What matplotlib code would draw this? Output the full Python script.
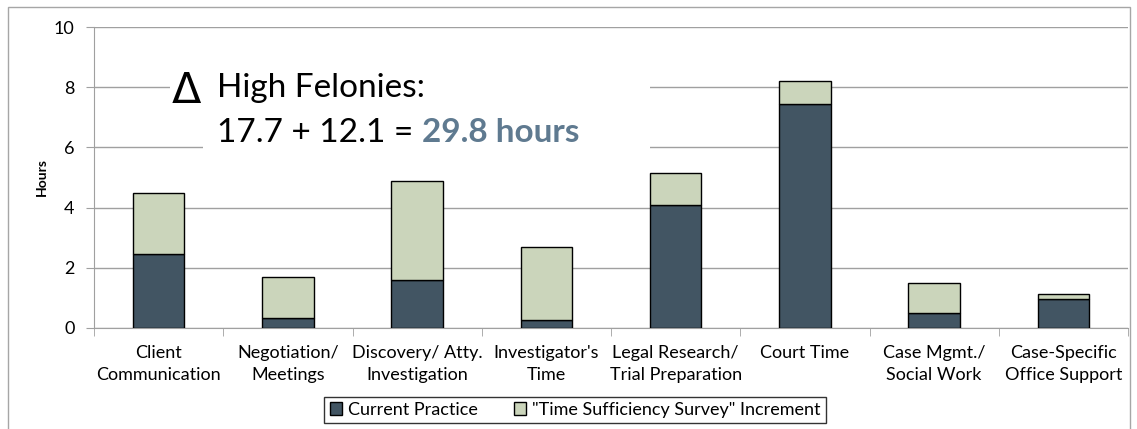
import matplotlib
matplotlib.use("Agg")
import matplotlib.pyplot as plt
from matplotlib.patches import Rectangle
import numpy as np

plt.rcParams['font.family'] = ['Lato', 'DejaVu Sans']

categories = ["Client\nCommunication", "Negotiation/\nMeetings", "Discovery/ Atty.\nInvestigation",
              "Investigator's\nTime", "Legal Research/\nTrial Preparation", "Court Time",
              "Case Mgmt./\nSocial Work", "Case-Specific\nOffice Support"]
current = [2.46, 0.33, 1.59, 0.27, 4.09, 7.44, 0.49, 0.97]
increment = [2.03, 1.36, 3.29, 2.42, 1.07, 0.76, 1.00, 0.16]
series_names = ["Current Practice", '"Time Sufficiency Survey" Increment']
dark = "#425563"
light = "#cbd5bb"

W, H = 1137, 429
fig = plt.figure(figsize=(W/100, H/100), dpi=100)
ax = fig.add_axes([94/W, 1-328/H, (1128-94)/W, (328-27)/H])

x = np.arange(len(categories))
b1 = ax.bar(x, current, width=0.4, color=dark, edgecolor="black", linewidth=1, zorder=3, label=series_names[0])
b2 = ax.bar(x, increment, bottom=current, width=0.4, color=light, edgecolor="black", linewidth=1, zorder=3, label=series_names[1])

ax.set_xlim(-0.5, len(categories)-0.5)
ax.set_ylim(0, 10)
ax.set_yticks([0, 2, 4, 6, 8, 10])
ax.yaxis.grid(True, color="#a0a0a0", linewidth=1, zorder=0)
ax.set_axisbelow(True)
for s in ["top", "right"]:
    ax.spines[s].set_visible(False)
for s in ["left", "bottom"]:
    ax.spines[s].set_color("#a0a0a0")
ax.tick_params(axis="y", length=6, color="#a0a0a0", labelsize=13, pad=8)
ax.set_xticks(x)
ax.set_xticklabels(categories, fontsize=13, linespacing=1.45)
ax.tick_params(axis="x", length=0, pad=12)
ax.set_xticks(np.arange(-0.5, len(categories)), minor=True)
ax.tick_params(axis="x", which="minor", length=6, color="#a0a0a0")
ax.set_ylabel("Hours", fontsize=10, fontweight="bold", labelpad=4)

# white annotation background
def px2x(px):
    return (px-94)/((1128-94)/len(categories)) - 0.5
ax.add_patch(Rectangle((px2x(203), 5.5), px2x(650)-px2x(203), 3.1, facecolor="white", edgecolor="none", zorder=1))
ax.add_patch(Rectangle((px2x(170), 7.5), px2x(203)-px2x(170), 1.1, facecolor="white", edgecolor="none", zorder=1))

fig.text(172/W, 1-103/H, "\u0394", fontsize=31, family=['DejaVu Sans'], va="baseline", ha="left")
fig.text(217/W, 1-97/H, "High Felonies:", fontsize=24, va="baseline", ha="left")
t = fig.text(217/W, 1-142/H, "17.7 + 12.1 = ", fontsize=24, va="baseline", ha="left")
fig.canvas.draw()
bb = t.get_window_extent()
fig.text(bb.x1/W, 1-142/H, "29.8 hours", fontsize=24, fontweight="bold", color="#5f7a90", va="baseline", ha="left")

leg = fig.legend(handles=[b1, b2], labels=series_names, loc="center", bbox_to_anchor=(575/W, 1-410/H),
                 ncol=2, frameon=True, fancybox=False, edgecolor="black", fontsize=13,
                 handlelength=0.7, handleheight=0.7, handletextpad=0.3, columnspacing=2.0,
                 borderpad=0.3)
leg.get_frame().set_linewidth(1)

fig.add_artist(Rectangle((8/W, -0.1), (1130-8)/W, 1.1 - 7/H, transform=fig.transFigure,
                         facecolor="none", edgecolor="#a6a6a6", linewidth=1))

fig.savefig("out.png", dpi=100)
